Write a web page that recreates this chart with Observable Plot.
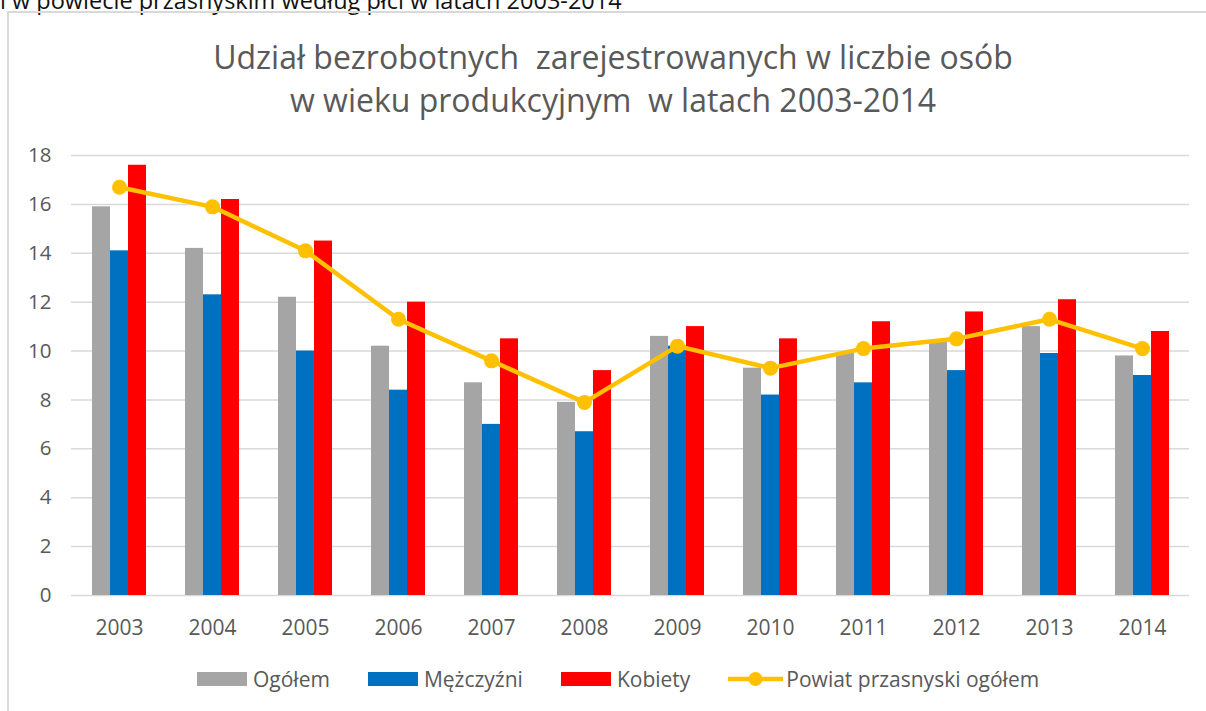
<!DOCTYPE html>
<html>
<head>
<meta charset="utf-8">
<script src="https://cdn.jsdelivr.net/npm/d3@7"></script>
<script src="https://cdn.jsdelivr.net/npm/@observablehq/plot@0.6"></script>
<style>
  html, body { margin:0; padding:0; background:#fff; }
  body { width:1206px; height:711px; overflow:hidden; position:relative; font-family:"Open Sans", sans-serif; }
  #toptext { position:absolute; left:0; top:-12px; font-size:23.5px; line-height:24px; color:#111; white-space:nowrap; }
  #box { position:absolute; left:7px; top:11px; width:1300px; height:800px; border:2px solid #d9d9d9; box-sizing:border-box; }
  #title { position:absolute; left:0; width:1226px; top:35px; text-align:center; font-size:32px; line-height:43px; color:#595959; }
  #chart { position:absolute; left:0; top:130px; }
  #legend { position:absolute; left:197px; top:668px; height:22px; display:flex; align-items:center; font-size:21px; color:#595959; white-space:nowrap; }
  .item { display:flex; align-items:center; margin-right:38px; }
  .sw { width:50px; height:14px; margin-right:6px; }
</style>
</head>
<body>
<div id="toptext">i w powiecie przasnyskim według płci w latach 2003-2014</div>
<div id="box"></div>
<div id="title">Udział bezrobotnych&nbsp; zarejestrowanych w liczbie osób<br>w wieku produkcyjnym&nbsp; w latach 2003-2014</div>
<div id="chart"></div>
<div id="legend"></div>
<script>
const years = ["2003","2004","2005","2006","2007","2008","2009","2010","2011","2012","2013","2014"];
const ogolem = [15.9,14.2,12.2,10.2,8.7,7.9,10.6,9.3,9.9,10.4,11.0,9.8];
const mezczyzni = [14.1,12.3,10.0,8.4,7.0,6.7,10.2,8.2,8.7,9.2,9.9,9.0];
const kobiety = [17.6,16.2,14.5,12.0,10.5,9.2,11.0,10.5,11.2,11.6,12.1,10.8];
const powiat = [16.7,15.9,14.1,11.3,9.6,7.9,10.2,9.3,10.1,10.5,11.3,10.1];
const yTicks = [0,2,4,6,8,10,12,14,16,18];
const seriesNames = ["Ogółem","Mężczyźni","Kobiety","Powiat przasnyski ogółem"];
const colors = ["#A5A5A5","#0070C0","#FF0000","#FFC000"];

const data = years.map((y,i)=>({year:y, og:ogolem[i], m:mezczyzni[i], k:kobiety[i], p:powiat[i]}));

const chart = Plot.plot({
  width:1206, height:530,
  marginLeft:71, marginRight:17, marginTop:25, marginBottom:65,
  style:{fontFamily:"Open Sans, sans-serif", fontSize:"20px", color:"#595959", background:"transparent", overflow:"visible"},
  x:{type:"band", domain:years, paddingInner:0.807, paddingOuter:0.4035, label:null},
  y:{domain:[0,18], label:null},
  marks:[
    Plot.gridY(yTicks,{stroke:"#d9d9d9", strokeOpacity:1, strokeWidth:1.5}),
    Plot.axisY(yTicks,{tickSize:0, tickPadding:20, fontSize:20.5, label:null, fill:"#595959"}),
    Plot.axisX({tickSize:0, tickPadding:25, fontSize:21, label:null, fill:"#595959"}),
    Plot.barY(data,{x:"year", y:"og", fill:colors[0], dx:-18}),
    Plot.barY(data,{x:"year", y:"m", fill:colors[1]}),
    Plot.barY(data,{x:"year", y:"k", fill:colors[2], dx:18}),
    Plot.line(data,{x:"year", y:"p", stroke:colors[3], strokeWidth:4.5}),
    Plot.dot(data,{x:"year", y:"p", fill:colors[3], r:7.5})
  ]
});
document.getElementById("chart").appendChild(chart);

const legend = document.getElementById("legend");
seriesNames.forEach((name,i)=>{
  const item = document.createElement("div");
  item.className = "item";
  if (i < 3) {
    const sw = document.createElement("div");
    sw.className = "sw";
    sw.style.background = colors[i];
    item.appendChild(sw);
  } else {
    const svgNS = "http://www.w3.org/2000/svg";
    const s = document.createElementNS(svgNS,"svg");
    s.setAttribute("width","55"); s.setAttribute("height","20");
    s.style.marginRight = "3px";
    const l = document.createElementNS(svgNS,"line");
    l.setAttribute("x1","0"); l.setAttribute("x2","55"); l.setAttribute("y1","10"); l.setAttribute("y2","10");
    l.setAttribute("stroke",colors[3]); l.setAttribute("stroke-width","4.5");
    const c = document.createElementNS(svgNS,"circle");
    c.setAttribute("cx","27.5"); c.setAttribute("cy","10"); c.setAttribute("r","7"); c.setAttribute("fill",colors[3]);
    s.appendChild(l); s.appendChild(c);
    item.appendChild(s);
  }
  const t = document.createElement("span");
  t.textContent = name;
  item.appendChild(t);
  legend.appendChild(item);
});
</script>
</body>
</html>
